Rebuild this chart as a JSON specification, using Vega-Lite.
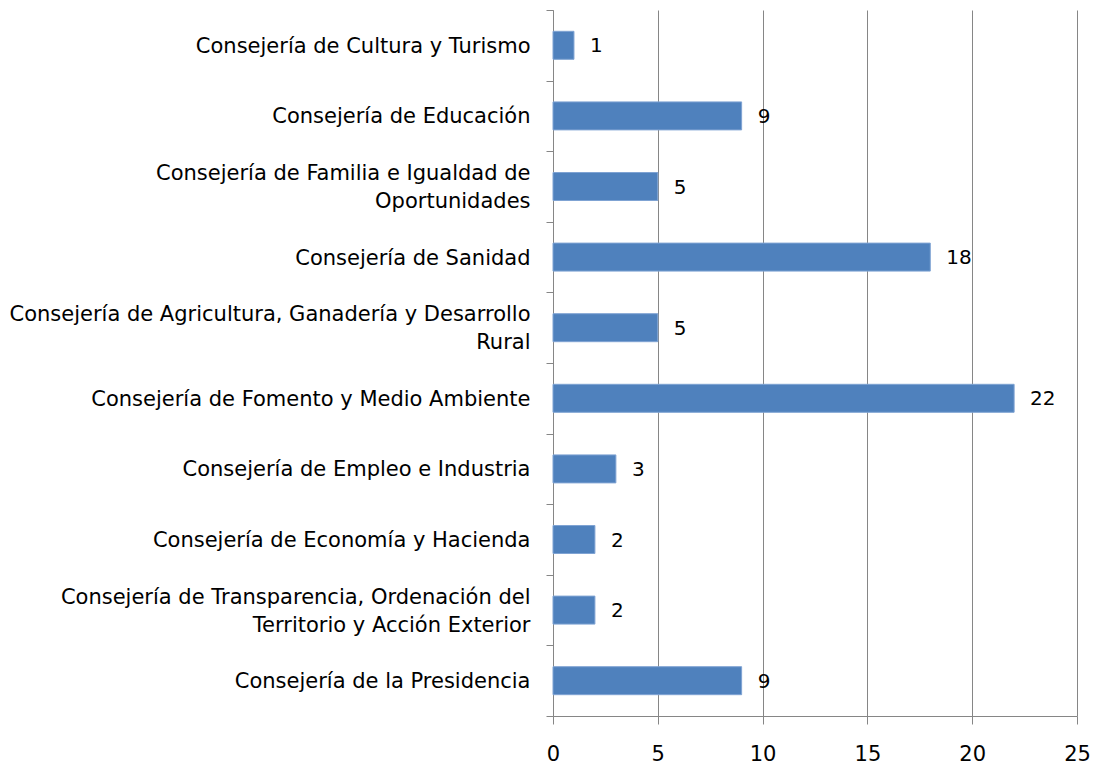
{
  "$schema": "https://vega.github.io/schema/vega-lite/v6.json",
  "autosize": "none",
  "padding": {"left": 553, "top": 10, "right": 20, "bottom": 48},
  "width": 524,
  "height": 706,
  "background": "white",
  "config": {
    "font": "DejaVu Sans",
    "view": {"stroke": null}
  },
  "data": {
    "values": [
      {"consejeria": "Consejería de Cultura y Turismo", "valor": 1},
      {"consejeria": "Consejería de Educación", "valor": 9},
      {"consejeria": "Consejería de Familia e Igualdad de|Oportunidades", "valor": 5},
      {"consejeria": "Consejería de Sanidad", "valor": 18},
      {"consejeria": "Consejería de Agricultura, Ganadería y Desarrollo|Rural", "valor": 5},
      {"consejeria": "Consejería de Fomento y Medio Ambiente", "valor": 22},
      {"consejeria": "Consejería de Empleo e Industria", "valor": 3},
      {"consejeria": "Consejería de Economía y Hacienda", "valor": 2},
      {"consejeria": "Consejería de Transparencia, Ordenación del|Territorio y Acción Exterior", "valor": 2},
      {"consejeria": "Consejería de la Presidencia", "valor": 9}
    ]
  },
  "encoding": {
    "y": {
      "field": "consejeria",
      "type": "nominal",
      "sort": null,
      "scale": {"paddingInner": 0, "paddingOuter": 0},
      "axis": {
        "title": null,
        "labelExpr": "split(datum.label, '|')",
        "labelFont": "DejaVu Sans",
        "labelFontSize": 21,
        "labelColor": "#000000",
        "labelLimit": 0,
        "labelPadding": 16,
        "labelLineHeight": 28,
        "labelOffset": {"condition": {"test": "isString(datum.label) && test(/[|]/, datum.label)", "value": -13}, "value": 1},
        "tickBand": "extent",
        "tickSize": 7,
        "tickColor": "#868686",
        "domainColor": "#868686",
        "grid": false
      }
    },
    "x": {
      "field": "valor",
      "type": "quantitative",
      "scale": {"domain": [0, 25], "nice": false},
      "axis": {
        "title": null,
        "values": [0, 5, 10, 15, 20, 25],
        "grid": true,
        "gridColor": "#868686",
        "gridOpacity": 1,
        "domainColor": "#868686",
        "tickColor": "#868686",
        "tickSize": 8,
        "labelFont": "DejaVu Sans",
        "labelFontSize": 21,
        "labelColor": "#000000",
        "labelPadding": 19,
        "labelFlush": false
      }
    }
  },
  "layer": [
    {
      "mark": {"type": "bar", "size": 28, "color": "#4F81BD", "stroke": "#7FA3D3", "strokeWidth": 1}
    },
    {
      "mark": {"type": "text", "align": "left", "baseline": "middle", "dx": 16, "dy": 1, "fontSize": 20, "font": "DejaVu Sans", "color": "#000000"},
      "encoding": {"text": {"field": "valor", "type": "quantitative"}}
    }
  ]
}
